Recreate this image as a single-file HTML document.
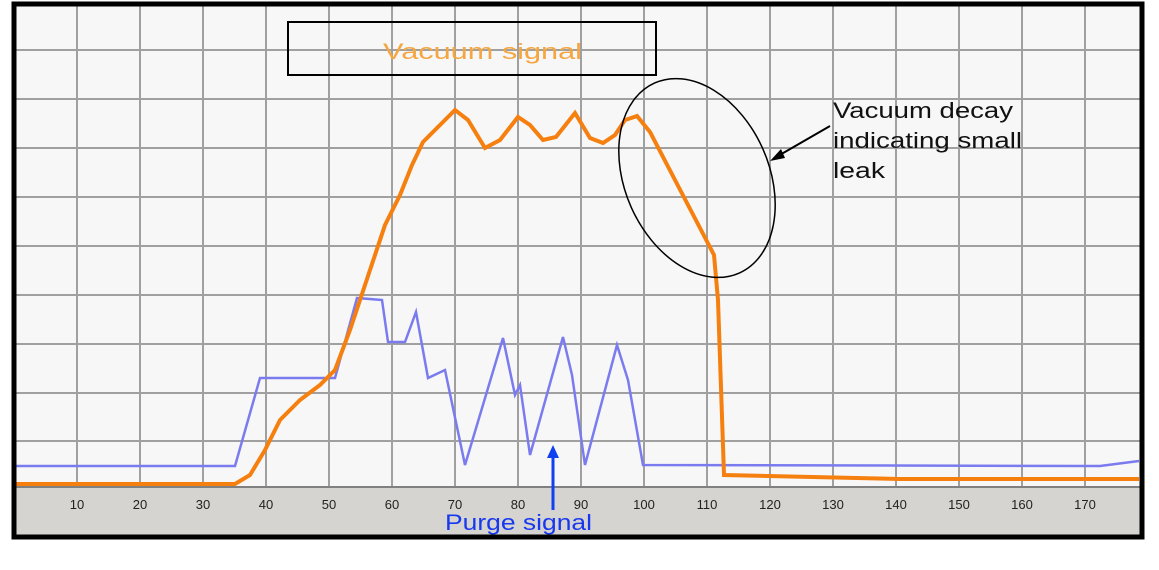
<!DOCTYPE html><html><head><style>body{margin:0;background:#fff;width:1159px;height:565px;overflow:hidden}</style></head><body>
<svg width="1159" height="565" xmlns="http://www.w3.org/2000/svg" font-family="Liberation Sans, sans-serif">
<rect x="14" y="4" width="1128" height="533" fill="#f7f7f7"/>
<rect x="14" y="487" width="1128" height="50" fill="#d6d4d0"/>
<g stroke="#a0a0a0" stroke-width="2">
<line x1="77" y1="4" x2="77" y2="487"/><line x1="140" y1="4" x2="140" y2="487"/><line x1="203" y1="4" x2="203" y2="487"/><line x1="266" y1="4" x2="266" y2="487"/><line x1="329" y1="4" x2="329" y2="487"/><line x1="392" y1="4" x2="392" y2="487"/><line x1="455" y1="4" x2="455" y2="487"/><line x1="518" y1="4" x2="518" y2="487"/><line x1="581" y1="4" x2="581" y2="487"/><line x1="644" y1="4" x2="644" y2="487"/><line x1="707" y1="4" x2="707" y2="487"/><line x1="770" y1="4" x2="770" y2="487"/><line x1="833" y1="4" x2="833" y2="487"/><line x1="896" y1="4" x2="896" y2="487"/><line x1="959" y1="4" x2="959" y2="487"/><line x1="1022" y1="4" x2="1022" y2="487"/><line x1="1085" y1="4" x2="1085" y2="487"/>
<line x1="14" y1="50" x2="1142" y2="50"/><line x1="14" y1="99" x2="1142" y2="99"/><line x1="14" y1="148" x2="1142" y2="148"/><line x1="14" y1="197" x2="1142" y2="197"/><line x1="14" y1="246" x2="1142" y2="246"/><line x1="14" y1="295" x2="1142" y2="295"/><line x1="14" y1="344" x2="1142" y2="344"/><line x1="14" y1="393" x2="1142" y2="393"/><line x1="14" y1="441" x2="1142" y2="441"/>
</g>
<line x1="14" y1="487" x2="1142" y2="487" stroke="#808080" stroke-width="2"/>
<g font-size="13" fill="#222" text-anchor="middle">
<text x="77" y="509">10</text><text x="140" y="509">20</text><text x="203" y="509">30</text><text x="266" y="509">40</text><text x="329" y="509">50</text><text x="392" y="509">60</text><text x="455" y="509">70</text><text x="518" y="509">80</text><text x="581" y="509">90</text><text x="644" y="509">100</text><text x="707" y="509">110</text><text x="770" y="509">120</text><text x="833" y="509">130</text><text x="896" y="509">140</text><text x="959" y="509">150</text><text x="1022" y="509">160</text><text x="1085" y="509">170</text>
</g>
<polyline fill="none" stroke="#7b7bf0" stroke-width="2.5" points="14,466 235,466 260,378 335,378 357,298 382,300 388,342 405,342 416,312 428,378 445,370 465,465 503,338 515,395 520,385 530,455 563,337 572,375 585,465 617,345 628,380 643,465 1100,466 1139,461"/>
<polyline fill="none" stroke="#f57f0f" stroke-width="4" points="14,484 235,484 250,475 265,450 280,420 300,400 320,385 335,370 350,330 370,270 385,225 400,195 412,165 423,142 440,125 455,110 468,120 485,148 500,140 518,117 530,125 543,140 556,137 575,113 590,138 603,143 615,135 625,120 637,116 650,132 675,180 700,228 714,255 718,300 724,475 900,479 1139,479"/>
<rect x="14" y="4" width="1128" height="533" fill="none" stroke="#000" stroke-width="5"/>
<rect x="288" y="22" width="368" height="53" fill="none" stroke="#000" stroke-width="2"/>
<text x="383" y="59" font-size="22" fill="#f5a640" textLength="199" lengthAdjust="spacingAndGlyphs">Vacuum signal</text>
<ellipse cx="697" cy="178" rx="72" ry="104" transform="rotate(-24 697 178)" fill="none" stroke="#000" stroke-width="1.5"/>
<g font-size="22" fill="#111"><text x="833" y="118" textLength="180" lengthAdjust="spacingAndGlyphs">Vacuum decay</text><text x="833" y="148" textLength="189" lengthAdjust="spacingAndGlyphs">indicating small</text><text x="833" y="178" textLength="52" lengthAdjust="spacingAndGlyphs">leak</text></g>
<line x1="830" y1="126" x2="778" y2="156" stroke="#000" stroke-width="2"/>
<polygon points="770,161 781,149 785,158" fill="#000"/>
<line x1="553" y1="510" x2="553" y2="455" stroke="#1040f0" stroke-width="3"/>
<polygon points="553,445 547,458 559,458" fill="#1040f0"/>
<text x="445" y="530" font-size="22" fill="#1838f0" textLength="147" lengthAdjust="spacingAndGlyphs">Purge signal</text>
</svg></body></html>
